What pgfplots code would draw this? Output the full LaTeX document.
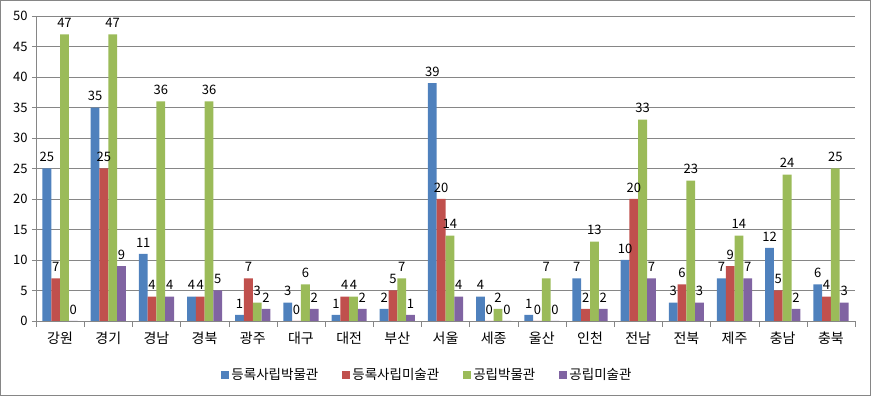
\documentclass[border=0pt]{standalone}
\usepackage{pgfplots}
\pgfplotsset{compat=1.18}
\usepackage{fontspec}
\setmainfont{Noto Sans CJK KR}
\definecolor{cA}{HTML}{4F81BD}
\definecolor{cB}{HTML}{C0504D}
\definecolor{cC}{HTML}{9BBB59}
\definecolor{cD}{HTML}{8064A2}
\definecolor{gridc}{HTML}{868686}
\begin{document}
\begin{tikzpicture}[x=1pt,y=1pt]
\useasboundingbox (0,0) rectangle (871,396);
\draw[gridc,line width=1.2pt] (0.6,0.6) rectangle (870.4,395.4);
\begin{axis}[
  at={(36pt,75pt)}, anchor=south west,
  scale only axis, width=819pt, height=305pt,
  ybar=0pt, bar width=8.8pt,
  xmin=-0.5, xmax=16.5, ymin=0, ymax=50,
  xtick={0,...,16},
  xticklabels={강원,경기,경남,경북,광주,대구,대전,부산,서울,세종,울산,인천,전남,전북,제주,충남,충북},
  minor xtick={-0.5,0.5,...,16.5},
  ytick={0,5,...,50},
  axis lines*=left,
  axis line style={gridc},
  x axis line style={-}, y axis line style={-},
  tick align=outside,
  major x tick style={draw=none},
  minor x tick style={gridc},
  y tick style={gridc},
  major tick length=4pt, minor tick length=6pt,
  ymajorgrids, grid style={gridc, line width=0.8pt},
  tick label style={font=\fontsize{13}{15}\selectfont},
  yticklabel style={xshift=-1pt},
  xticklabel style={font=\fontsize{14}{16}\selectfont, yshift=-3pt},
  /pgf/number format/assume math mode=true,
  nodes near coords,
  every node near coord/.append style={font=\fontsize{13}{15}\selectfont, black, inner sep=1pt, yshift=5.5pt},
  legend columns=4,
  legend style={draw=none, at={(0.478,-0.177)}, anchor=center, font=\fontsize{13.5}{15}\selectfont,
    /tikz/every even column/.append style={column sep=22pt}},
  legend image code/.code={\fill[#1,draw=none] (0pt,-4pt) rectangle (8pt,4pt);},
]
\addplot[fill=cA,draw=none] coordinates {(0,25)(1,35)(2,11)(3,4)(4,1)(5,3)(6,1)(7,2)(8,39)(9,4)(10,1)(11,7)(12,10)(13,3)(14,7)(15,12)(16,6)};
\addplot[fill=cB,draw=none] coordinates {(0,7)(1,25)(2,4)(3,4)(4,7)(5,0)(6,4)(7,5)(8,20)(9,0)(10,0)(11,2)(12,20)(13,6)(14,9)(15,5)(16,4)};
\addplot[fill=cC,draw=none] coordinates {(0,47)(1,47)(2,36)(3,36)(4,3)(5,6)(6,4)(7,7)(8,14)(9,2)(10,7)(11,13)(12,33)(13,23)(14,14)(15,24)(16,25)};
\addplot[fill=cD,draw=none] coordinates {(0,0)(1,9)(2,4)(3,5)(4,2)(5,2)(6,2)(7,1)(8,4)(9,0)(10,0)(11,2)(12,7)(13,3)(14,7)(15,2)(16,3)};
\legend{등록사립박물관,등록사립미술관,공립박물관,공립미술관}
\end{axis}
\end{tikzpicture}
\end{document}
